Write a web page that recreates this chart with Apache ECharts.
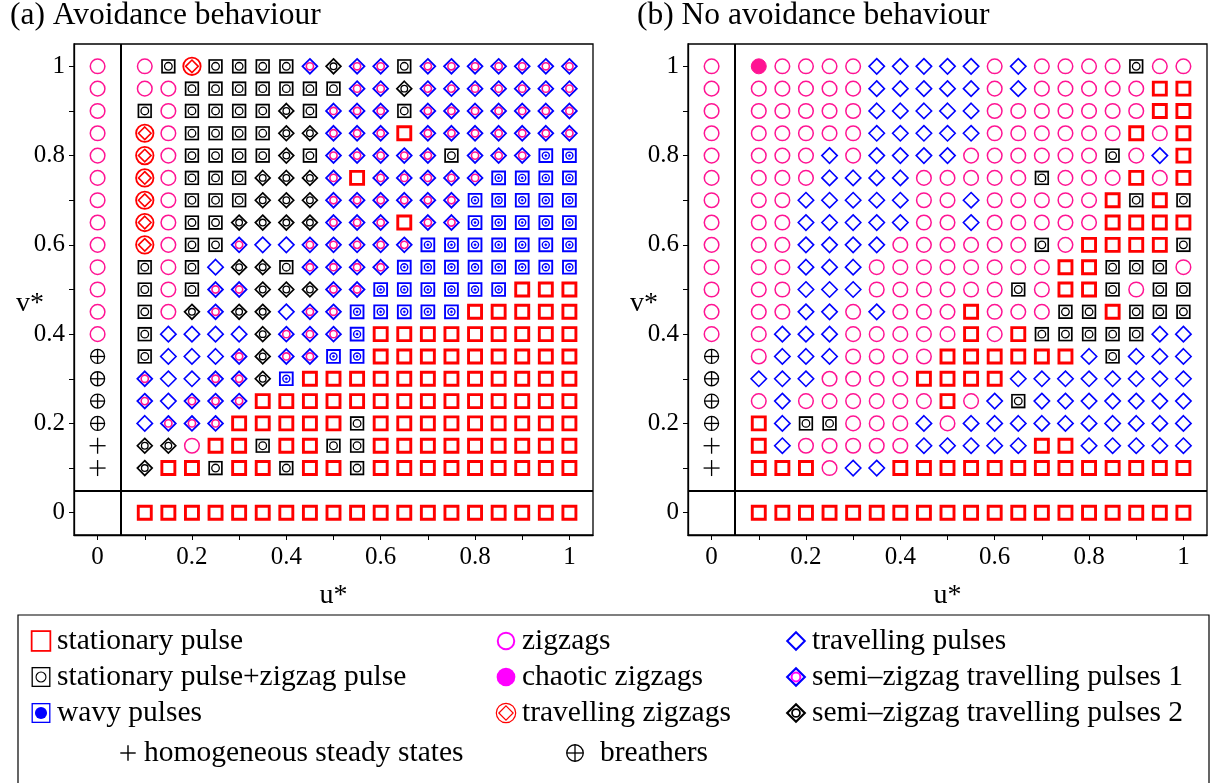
<!DOCTYPE html>
<html>
<head>
<meta charset="utf-8">
<script src="https://cdn.jsdelivr.net/npm/echarts@6/dist/echarts.min.js"></script>
<style>
html,body{margin:0;padding:0;background:#fff;}
#chart{width:1223px;height:783px;}
</style>
</head>
<body>
<div id="chart"></div>
<script>
// ---------------- DATA ----------------
const uColumns = [0.1,0.15,0.2,0.25,0.3,0.35,0.4,0.45,0.5,0.55,0.6,0.65,0.7,0.75,0.8,0.85,0.9,0.95,1.0];
const vRows = [1.0,0.95,0.9,0.85,0.8,0.75,0.7,0.65,0.6,0.55,0.5,0.45,0.4,0.35,0.3,0.25,0.2,0.15,0.1];
const xTickValues = [0,0.1,0.2,0.3,0.4,0.5,0.6,0.7,0.8,0.9,1];
const xTickLabels = [0,0.2,0.4,0.6,0.8,1];
const yTickValues = [0,0.1,0.2,0.3,0.4,0.5,0.6,0.7,0.8,0.9,1];
const yTickLabels = [0,0.2,0.4,0.6,0.8,1];
const dividerU = 0.05;
const dividerV = 0.05;

// codes: S stationary, SZ stationary+zigzag, W wavy, Z zigzag, C chaotic, TZ travelling zigzag,
// T travelling pulse, S1 semi-zigzag 1, S2 semi-zigzag 2, H homogeneous, B breathers
const uZeroColumn = ['Z','Z','Z','Z','Z','Z','Z','Z','Z','Z','Z','Z','Z','B','B','B','B','H','H'];
const vZeroRow = ['S','S','S','S','S','S','S','S','S','S','S','S','S','S','S','S','S','S','S'];

const avoidanceRows = [
 'Z SZ TZ SZ SZ SZ SZ S1 S2 S1 S1 SZ S1 S1 S1 S1 S1 S1 S1',
 'Z Z SZ SZ SZ SZ SZ SZ SZ S1 S1 S2 S1 S1 S1 S1 S1 S1 S1',
 'SZ Z SZ SZ SZ SZ S2 SZ S1 S1 S1 SZ S1 S1 S1 S1 S1 S1 S1',
 'TZ Z SZ SZ SZ SZ S2 S2 S1 S1 S1 S S1 S1 S1 S1 S1 S1 S1',
 'TZ Z SZ SZ SZ SZ S2 SZ S1 S1 S1 S1 S1 SZ S1 S1 S1 W W',
 'TZ Z SZ SZ SZ S2 S2 S2 S1 S S1 S1 S1 S1 S1 W W W W',
 'TZ Z SZ SZ SZ S2 S2 S2 S1 S1 S1 S1 S1 S1 W W W W W',
 'TZ Z SZ SZ S2 S2 S2 S2 S1 S1 S1 S S1 S1 W W W W W',
 'TZ Z SZ SZ S1 T T S1 S1 S1 S1 S1 W W W W W W W',
 'SZ Z SZ T S2 S2 SZ S1 S1 S1 S1 W W W W W W W W',
 'SZ Z SZ S1 S1 S2 S2 S2 S1 S1 W W W W W W S S S',
 'SZ Z S2 S1 S2 S2 T S1 S1 W W W W W S S S S S',
 'SZ T T T T S2 S1 S1 S1 W S S S S S S S S S',
 'SZ T T T S1 S2 S1 S1 W W S S S S S S S S S',
 'S1 T T S1 S1 S2 W S S S S S S S S S S S S',
 'S1 T S1 S1 S1 S S S S S S S S S S S S S S',
 'T S1 S1 S1 S S S S S SZ S S S S S S S S S',
 'S2 S2 Z S S SZ S S SZ SZ S S S S S S S S S',
 'S2 S S SZ S S SZ S S SZ S S S S S S S S S'
];

const noAvoidanceRows = [
 'C Z Z Z Z T T T T T Z T Z Z Z Z SZ Z Z',
 'Z Z Z Z Z T T T T T Z T Z Z Z Z Z S S',
 'Z Z Z Z Z T T T T T Z Z Z Z Z Z Z S S',
 'Z Z Z Z Z T T T T T Z Z Z Z Z Z S Z S',
 'Z Z Z T Z T T T T Z Z Z Z Z Z SZ Z T S',
 'Z Z Z T T T T Z Z Z Z Z SZ Z Z Z S Z S',
 'Z Z T T T T T Z Z T Z Z Z Z Z S SZ S SZ',
 'Z Z T T T T T Z Z T Z Z Z Z Z S S S S',
 'Z Z T T T T Z Z Z Z Z Z SZ Z S S S S SZ',
 'Z Z T T T Z Z Z Z Z Z Z Z S S SZ SZ SZ Z',
 'Z Z T T T Z Z Z Z Z Z SZ Z S S SZ Z SZ SZ',
 'Z Z T T Z T Z Z Z S Z Z Z SZ SZ S SZ SZ SZ',
 'Z T T T Z Z Z Z Z S Z S SZ SZ SZ SZ SZ T T',
 'Z T T T Z Z Z Z S S S S S S T SZ T T T',
 'T T T Z Z Z Z S S S S T T T T T T T T',
 'Z T Z Z Z Z Z Z S Z T SZ T T T T T T T',
 'S T SZ SZ Z Z Z T Z T T T T T T T T T T',
 'S T Z Z Z Z Z T T T T T S S T T T T T',
 'S S S Z T T S S S S S S S S S S S S S'
];

const panelTitles = ['(a) Avoidance behaviour', '(b) No avoidance behaviour'];
const legendNames = {
  S: 'stationary pulse', SZ: 'stationary pulse+zigzag pulse', W: 'wavy pulses',
  Z: 'zigzags', C: 'chaotic zigzags', TZ: 'travelling zigzags',
  T: 'travelling pulses', S1: 'semi\u2013zigzag travelling pulses 1', S2: 'semi\u2013zigzag travelling pulses 2',
  H: 'homogeneous steady states', B: 'breathers'
};
const codeOrder = ['S','SZ','W','Z','C','TZ','T','S1','S2','H','B'];

// ---------------- STYLE ----------------
const FONT = '"Liberation Serif","Times New Roman",serif';
const RED = '#ff0000', BLUE = '#0000ff', PINK = '#ff1493', BLACK = '#000000';

function sq(x,y,h,c,lw){return {type:'rect',shape:{x:x-h,y:y-h,width:2*h,height:2*h},style:{fill:'none',stroke:c,lineWidth:lw}};}
function circ(x,y,r,c,lw,fill){return {type:'circle',shape:{cx:x,cy:y,r:r},style:{fill:fill||'none',stroke:c,lineWidth:lw}};}
function dia(x,y,h,c,lw){return {type:'polygon',shape:{points:[[x,y-h],[x+h,y],[x,y+h],[x-h,y]]},style:{fill:'none',stroke:c,lineWidth:lw}};}
function ln(x1,y1,x2,y2,c,lw){return {type:'line',shape:{x1:x1,y1:y1,x2:x2,y2:y2},style:{stroke:c,lineWidth:lw}};}

function glyph(code,x,y){
  switch(code){
    case 'S': return [sq(x,y,6.5,RED,2.9)];
    case 'SZ': return [sq(x,y,6.7,'#bbbbbb',1.2), sq(x,y,6.3,BLACK,1.6), circ(x,y,3.8,BLACK,1.3)];
    case 'W': return [sq(x,y,6.4,BLUE,1.9), circ(x,y,3.5,BLUE,1.4), circ(x,y,1.1,BLUE,0.5,BLUE)];
    case 'Z': return [circ(x,y,7.3,PINK,1.5)];
    case 'C': return [circ(x,y,7.5,PINK,1,PINK)];
    case 'TZ': return [circ(x,y,8.7,RED,1.8), dia(x,y,6.3,RED,1.6)];
    case 'T': return [dia(x,y,7.7,BLUE,1.6)];
    case 'S1': return [dia(x,y,7.4,BLUE,1.8), circ(x,y,3.6,PINK,1.6)];
    case 'S2': return [dia(x,y,7.4,BLACK,1.7), circ(x,y,3.3,BLACK,1.3)];
    case 'H': return [ln(x-8,y,x+8,y,BLACK,1.3), ln(x,y-8,x,y+8,BLACK,1.3)];
    case 'B': return [circ(x,y,7,BLACK,1.3), ln(x-7,y,x+7,y,BLACK,1.3), ln(x,y-7,x,y+7,BLACK,1.3)];
  }
  return [];
}

function iconSvg(code){
  let inner = '';
  switch(code){
    case 'S': inner = '<rect x="1.5" y="1" width="17" height="18" fill="none" stroke="#ff0000" stroke-width="1.6"/>'; break;
    case 'SZ': inner = '<rect x="2" y="1.5" width="16" height="17" fill="none" stroke="#000" stroke-width="1.2"/><circle cx="10" cy="10" r="4.5" fill="none" stroke="#000" stroke-width="1"/>'; break;
    case 'W': inner = '<rect x="2" y="1.5" width="16" height="17" fill="none" stroke="#0000ff" stroke-width="1.2"/><circle cx="10" cy="10" r="5.5" fill="#0000ff"/>'; break;
    case 'Z': inner = '<circle cx="10" cy="10" r="7.5" fill="none" stroke="#ff00ff" stroke-width="1.8"/>'; break;
    case 'C': inner = '<circle cx="10" cy="10" r="8.5" fill="#ff00ff"/>'; break;
    case 'TZ': inner = '<circle cx="10" cy="10" r="8.8" fill="none" stroke="#ff0000" stroke-width="1.1"/><polygon points="10,3.5 16.5,10 10,16.5 3.5,10" fill="none" stroke="#ff0000" stroke-width="1.1"/>'; break;
    case 'T': inner = '<polygon points="10,2 18,10 10,18 2,10" fill="none" stroke="#0000ff" stroke-width="1.8"/>'; break;
    case 'S1': inner = '<polygon points="10,2 18,10 10,18 2,10" fill="none" stroke="#0000ff" stroke-width="2"/><circle cx="10" cy="10" r="4" fill="none" stroke="#ff00ff" stroke-width="1.8"/>'; break;
    case 'S2': inner = '<polygon points="10,2 18,10 10,18 2,10" fill="none" stroke="#000" stroke-width="2"/><circle cx="10" cy="10" r="3.6" fill="none" stroke="#000" stroke-width="1.6"/>'; break;
    case 'H': inner = '<line x1="3" y1="10" x2="17" y2="10" stroke="#000" stroke-width="1.3"/><line x1="10" y1="3" x2="10" y2="17" stroke="#000" stroke-width="1.3"/>'; break;
    case 'B': inner = '<circle cx="10" cy="10" r="7.5" fill="none" stroke="#000" stroke-width="1.2"/><line x1="2.5" y1="10" x2="17.5" y2="10" stroke="#000" stroke-width="1.2"/><line x1="10" y1="2.5" x2="10" y2="17.5" stroke="#000" stroke-width="1.2"/>'; break;
  }
  const svg = '<svg xmlns="http://www.w3.org/2000/svg" width="20" height="20" viewBox="0 0 20 20">' + inner + '</svg>';
  return 'image://data:image/svg+xml;charset=utf-8,' + encodeURIComponent(svg);
}

// ---------------- BUILD SERIES ----------------
function collect(rows){
  const byCode = {};
  codeOrder.forEach(c => byCode[c] = []);
  rows.forEach((row, i) => {
    row.split(' ').forEach((code, j) => { byCode[code].push([uColumns[j], vRows[i]]); });
  });
  uZeroColumn.forEach((code, i) => byCode[code].push([0, vRows[i]]));
  vZeroRow.forEach((code, j) => byCode[code].push([uColumns[j], 0]));
  return byCode;
}

const panels = [collect(avoidanceRows), collect(noAvoidanceRows)];
const series = [];
panels.forEach((byCode, p) => {
  codeOrder.forEach(code => {
    series.push({
      type: 'custom', name: legendNames[code], xAxisIndex: p, yAxisIndex: p,
      data: byCode[code], encode: {x: 0, y: 1}, silent: true, clip: false, z: 3,
      renderItem: function(params, api){
        const pt = api.coord([api.value(0), api.value(1)]);
        return {type: 'group', children: glyph(code, pt[0], pt[1])};
      }
    });
  });
  series.push({
    type: 'scatter', name: 'dividers', xAxisIndex: p, yAxisIndex: p, data: [], silent: true,
    markLine: {silent: true, symbol: 'none', label: {show: false}, animation: false,
      lineStyle: {color: BLACK, width: 2, type: 'solid'},
      data: [{xAxis: dividerU}, {yAxis: dividerV}]}
  });
});

const gridLefts = [74, 688];
const grids = gridLefts.map(l => ({left: l, top: 44, width: 519, height: 491, show: true, borderColor: BLACK, borderWidth: 1.3, containLabel: false}));

function fmt(v){ return String(Math.round(v * 10) / 10); }
const xAxes = gridLefts.map((l, i) => ({
  type: 'value', gridIndex: i, min: -0.05, max: 1.05,
  name: 'u*', nameLocation: 'middle', nameGap: 47, nameMoveOverlap: false,
  nameTextStyle: {fontFamily: FONT, fontSize: 28, color: BLACK},
  axisLine: {show: true, onZero: false, lineStyle: {color: BLACK, width: 1.3}},
  axisTick: {show: true, length: 5, customValues: xTickValues, lineStyle: {color: BLACK, width: 1}},
  axisLabel: {customValues: xTickLabels, formatter: fmt, fontFamily: FONT, fontSize: 25, color: BLACK, margin: 10},
  splitLine: {show: false}
}));
const yAxes = gridLefts.map((l, i) => ({
  type: 'value', gridIndex: i, min: -0.05, max: 1.05,
  name: 'v*', nameLocation: 'middle', nameGap: 30, nameRotate: 0, nameMoveOverlap: false,
  nameTextStyle: {fontFamily: FONT, fontSize: 28, color: BLACK, verticalAlign: 'top'},
  axisLine: {show: true, onZero: false, lineStyle: {color: BLACK, width: 1.3}},
  axisTick: {show: true, length: 5, customValues: yTickValues, lineStyle: {color: BLACK, width: 1}},
  axisLabel: {customValues: yTickLabels, formatter: fmt, fontFamily: FONT, fontSize: 25, color: BLACK, margin: 9},
  splitLine: {show: false}
}));

const legendText = {fontFamily: FONT, fontSize: 29.5, color: BLACK, lineHeight: 27};
function legendBlock(codes, left, top, extra){
  return Object.assign({
    orient: 'vertical', left: left, top: top, itemWidth: 22, itemHeight: 22, itemGap: 6,
    selectedMode: false, padding: 0, textStyle: legendText,
    data: codes.map(c => ({name: legendNames[c], icon: iconSvg(c)}))
  }, extra || {});
}

const option = {
  animation: false,
  backgroundColor: '#ffffff',
  title: panelTitles.map((t, i) => ({
    text: t, left: [5, 632][i], top: -5,
    textStyle: {fontFamily: FONT, fontSize: 31.5, fontWeight: 'normal', color: BLACK}
  })),
  grid: grids,
  xAxis: xAxes,
  yAxis: yAxes,
  legend: [
    legendBlock(['S','SZ','W'], 30, 626),
    legendBlock(['Z','C','TZ'], 495, 626),
    legendBlock(['T','S1','S2'], 785, 626),
    legendBlock(['H'], 117, 738),
    legendBlock(['B'], 555, 738, {itemWidth: 40})
  ],
  graphic: [{
    type: 'rect', silent: true, z: 0,
    shape: {x: 18, y: 615, width: 1191, height: 200},
    style: {fill: 'none', stroke: BLACK, lineWidth: 1.2}
  }],
  series: series
};

const chart = echarts.init(document.getElementById('chart'), null, {renderer: 'canvas'});
chart.setOption(option);
</script>
</body>
</html>
